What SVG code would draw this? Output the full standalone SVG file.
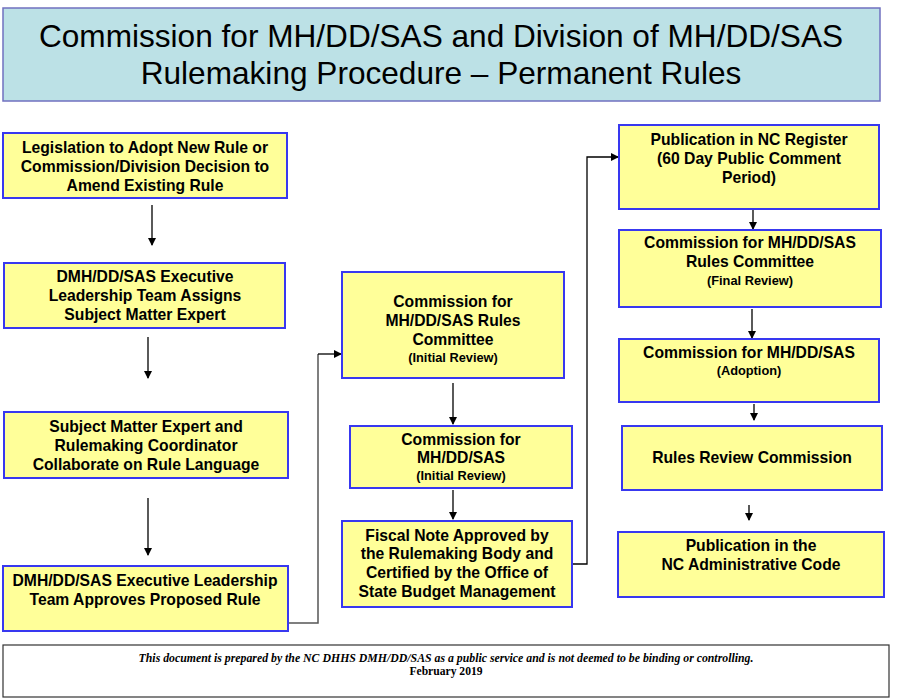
<svg xmlns="http://www.w3.org/2000/svg" width="907" height="698" viewBox="0 0 907 698">
<defs>
<marker id="ah" markerWidth="8" markerHeight="8" refX="7" refY="4" orient="auto" markerUnits="userSpaceOnUse">
<path d="M0,0 L8,4 L0,8 z" fill="#000"/>
</marker>
<style>
.box{fill:#FFFF99;stroke:#3838F0;stroke-width:2}
.t{font-family:"Liberation Sans",Arial,sans-serif;font-weight:bold;font-size:15.7px;text-anchor:middle;fill:#000}
.s{font-family:"Liberation Sans",Arial,sans-serif;font-weight:bold;font-size:12.8px;text-anchor:middle;fill:#000}
.c{fill:none;stroke:#000;stroke-width:1.3}
.c2{fill:none;stroke:#555;stroke-width:1.5}
</style>
</defs>
<rect width="907" height="698" fill="#fff"/>
<g id="title">
<rect x="3" y="8" width="877" height="93" fill="#BCE1E6" stroke="#7070C0" stroke-width="1.5"/>
<text x="441" y="47" font-family="Liberation Sans,Arial,sans-serif" font-size="31.6" text-anchor="middle">Commission for MH/DD/SAS and Division of MH/DD/SAS</text>
<text x="441" y="84" font-family="Liberation Sans,Arial,sans-serif" font-size="31.6" text-anchor="middle">Rulemaking Procedure – Permanent Rules</text>
</g>
<g id="connectors">
<line class="c" x1="152" y1="205" x2="152" y2="245" marker-end="url(#ah)"/>
<line class="c" x1="148" y1="337" x2="148" y2="378" marker-end="url(#ah)"/>
<line class="c" x1="148" y1="498" x2="148" y2="555" marker-end="url(#ah)"/>
<polyline class="c2" points="289,623 318,623 318,354"/>
<line class="c" x1="318" y1="354" x2="341" y2="354" marker-end="url(#ah)"/>
<line class="c" x1="453" y1="383" x2="453" y2="424" marker-end="url(#ah)"/>
<line class="c" x1="453" y1="490" x2="453" y2="519" marker-end="url(#ah)"/>
<polyline class="c" points="573,564 587,564 587,157 618,157" marker-end="url(#ah)"/>
<line class="c" x1="753" y1="210" x2="753" y2="229" marker-end="url(#ah)"/>
<line class="c" x1="752" y1="309" x2="752" y2="338" marker-end="url(#ah)"/>
<line class="c" x1="754" y1="404" x2="754" y2="420" marker-end="url(#ah)"/>
<line class="c" x1="749" y1="505" x2="749" y2="520" marker-end="url(#ah)"/>
</g>
<g id="n1">
<rect class="box" x="3" y="133" width="284" height="65"/>
<text class="t" x="145" y="153">Legislation to Adopt New Rule or</text>
<text class="t" x="145" y="172">Commission/Division Decision to</text>
<text class="t" x="145" y="191">Amend Existing Rule</text>
</g>
<g id="n2">
<rect class="box" x="4" y="263" width="281" height="65"/>
<text class="t" x="145" y="282">DMH/DD/SAS Executive</text>
<text class="t" x="145" y="301">Leadership Team Assigns</text>
<text class="t" x="145" y="320">Subject Matter Expert</text>
</g>
<g id="n3">
<rect class="box" x="4" y="412" width="284" height="66"/>
<text class="t" x="146" y="432">Subject Matter Expert and</text>
<text class="t" x="146" y="451">Rulemaking Coordinator</text>
<text class="t" x="146" y="470">Collaborate on Rule Language</text>
</g>
<g id="n4">
<rect class="box" x="3" y="566" width="285" height="65"/>
<text class="t" x="145" y="586">DMH/DD/SAS Executive Leadership</text>
<text class="t" x="145" y="605">Team Approves Proposed Rule</text>
</g>
<g id="n5">
<rect class="box" x="342" y="272" width="222" height="106"/>
<text class="t" x="453" y="307">Commission for</text>
<text class="t" x="453" y="326">MH/DD/SAS Rules</text>
<text class="t" x="453" y="345">Committee</text>
<text class="s" x="453" y="362">(Initial Review)</text>
</g>
<g id="n6">
<rect class="box" x="350" y="426" width="222" height="62"/>
<text class="t" x="461" y="445">Commission for</text>
<text class="t" x="461" y="463">MH/DD/SAS</text>
<text class="s" x="461" y="480">(Initial Review)</text>
</g>
<g id="n7">
<rect class="box" x="342" y="521" width="230" height="86"/>
<text class="t" x="457" y="541">Fiscal Note Approved by</text>
<text class="t" x="457" y="559">the Rulemaking Body and</text>
<text class="t" x="457" y="578">Certified by the Office of</text>
<text class="t" x="457" y="597">State Budget Management</text>
</g>
<g id="n8">
<rect class="box" x="619" y="125" width="260" height="84"/>
<text class="t" x="749" y="145">Publication in NC Register</text>
<text class="t" x="749" y="164">(60 Day Public Comment</text>
<text class="t" x="749" y="183">Period)</text>
</g>
<g id="n9">
<rect class="box" x="619" y="230" width="262" height="77"/>
<text class="t" x="750" y="248">Commission for MH/DD/SAS</text>
<text class="t" x="750" y="267">Rules Committee</text>
<text class="s" x="750" y="285">(Final Review)</text>
</g>
<g id="n10">
<rect class="box" x="619" y="339" width="260" height="63"/>
<text class="t" x="749" y="358">Commission for MH/DD/SAS</text>
<text class="s" x="749" y="375">(Adoption)</text>
</g>
<g id="n11">
<rect class="box" x="622" y="426" width="260" height="64"/>
<text class="t" x="752" y="463">Rules Review Commission</text>
</g>
<g id="n12">
<rect class="box" x="618" y="532" width="266" height="65"/>
<text class="t" x="751" y="551">Publication in the</text>
<text class="t" x="751" y="570">NC Administrative Code</text>
</g>
<g id="footer">
<rect x="3" y="645" width="886" height="52" fill="#fff" stroke="#333" stroke-width="1.2"/>
<text x="446" y="662" font-family="Liberation Serif,Times New Roman,serif" font-size="11.8" font-weight="bold" font-style="italic" text-anchor="middle">This document is prepared by the NC DHHS DMH/DD/SAS as a public service and is not deemed to be binding or controlling.</text>
<text x="446" y="675" font-family="Liberation Serif,Times New Roman,serif" font-size="11.6" font-weight="bold" text-anchor="middle">February 2019</text>
</g>
</svg>
